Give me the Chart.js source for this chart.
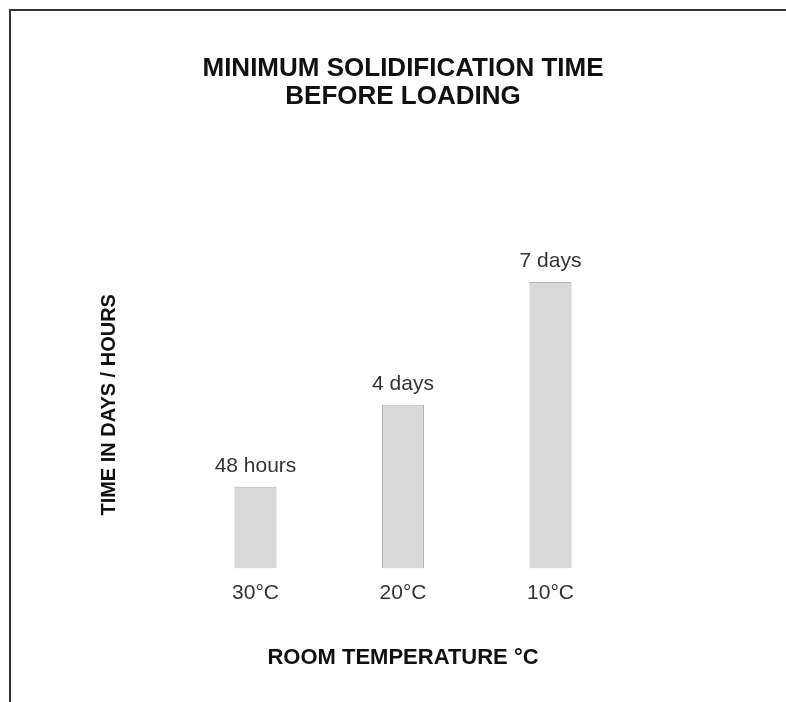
<!DOCTYPE html>
<html>
<head>
<meta charset="utf-8">
<script src="https://cdn.jsdelivr.net/npm/chart.js@4.4.1/dist/chart.umd.min.js"></script>
<style>
  body { margin: 0; background: #fff; }
  #wrap { position: relative; width: 786px; height: 702px; overflow: hidden; }
  #frame { position: absolute; left: 9px; top: 9px; width: 800px; height: 720px;
           border-top: 2px solid #333; border-left: 2px solid #333; }
  canvas { position: absolute; left: 0; top: 0; }
</style>
</head>
<body>
<div id="wrap">
  <div id="frame"></div>
  <canvas id="myChart" width="786" height="702"></canvas>
</div>
<script>
const labels = ['30°C', '20°C', '10°C'];
// time in days
const values = [2, 4, 7];
const valueLabels = ['48 hours', '4 days', '7 days'];

const fontName = '"Liberation Sans", Arial, Helvetica, sans-serif';

// writes the label above each bar
const barText = {
  id: 'barText',
  afterDatasetsDraw(chart) {
    const ctx = chart.ctx;
    const meta = chart.getDatasetMeta(0);
    ctx.save();
    ctx.font = '21px ' + fontName;
    ctx.fillStyle = '#333';
    ctx.textAlign = 'center';
    ctx.textBaseline = 'alphabetic';
    meta.data.forEach(function (bar, i) {
      ctx.fillText(valueLabels[i], bar.x, bar.y - 15);
    });
    ctx.restore();
  }
};

const data = {
  labels: labels,
  datasets: [{
    data: values,
    backgroundColor: '#d9d9d9',
    borderColor: '#b3b3b3',
    borderWidth: 1,
    barPercentage: 0.285,
    categoryPercentage: 1
  }]
};

const config = {
  type: 'bar',
  data: data,
  options: {
    responsive: false,
    animation: false,
    layout: { padding: { top: 10, left: 80, right: 161.75, bottom: 30.8 } },
    plugins: {
      legend: { display: false },
      tooltip: { enabled: false },
      title: {
        display: true,
        fullSize: false,
        text: ['MINIMUM SOLIDIFICATION TIME', 'BEFORE LOADING'],
        color: '#111',
        font: { family: fontName, size: 26, weight: 'bold', lineHeight: 1.077 },
        padding: { top: 45, bottom: 130 }
      }
    },
    scales: {
      x: {
        grid: { display: false, drawTicks: false },
        border: { display: false },
        ticks: { color: '#333', padding: 12, font: { family: fontName, size: 21 } },
        title: {
          display: true,
          text: 'ROOM TEMPERATURE °C',
          color: '#111',
          font: { family: fontName, size: 22, weight: 'bold', lineHeight: 1.2 },
          padding: { top: 27, bottom: 0 }
        }
      },
      y: {
        min: 0,
        max: 8,
        grid: { display: false, drawTicks: false },
        border: { display: false },
        ticks: { display: false },
        title: {
          display: true,
          text: 'TIME IN DAYS / HOURS',
          color: '#111',
          font: { family: fontName, size: 20, weight: 'bold', lineHeight: 1.2 },
          padding: { top: 17, bottom: 60.75 }
        }
      }
    }
  },
  plugins: [barText]
};

const myChart = new Chart(document.getElementById('myChart'), config);
</script>
</body>
</html>
